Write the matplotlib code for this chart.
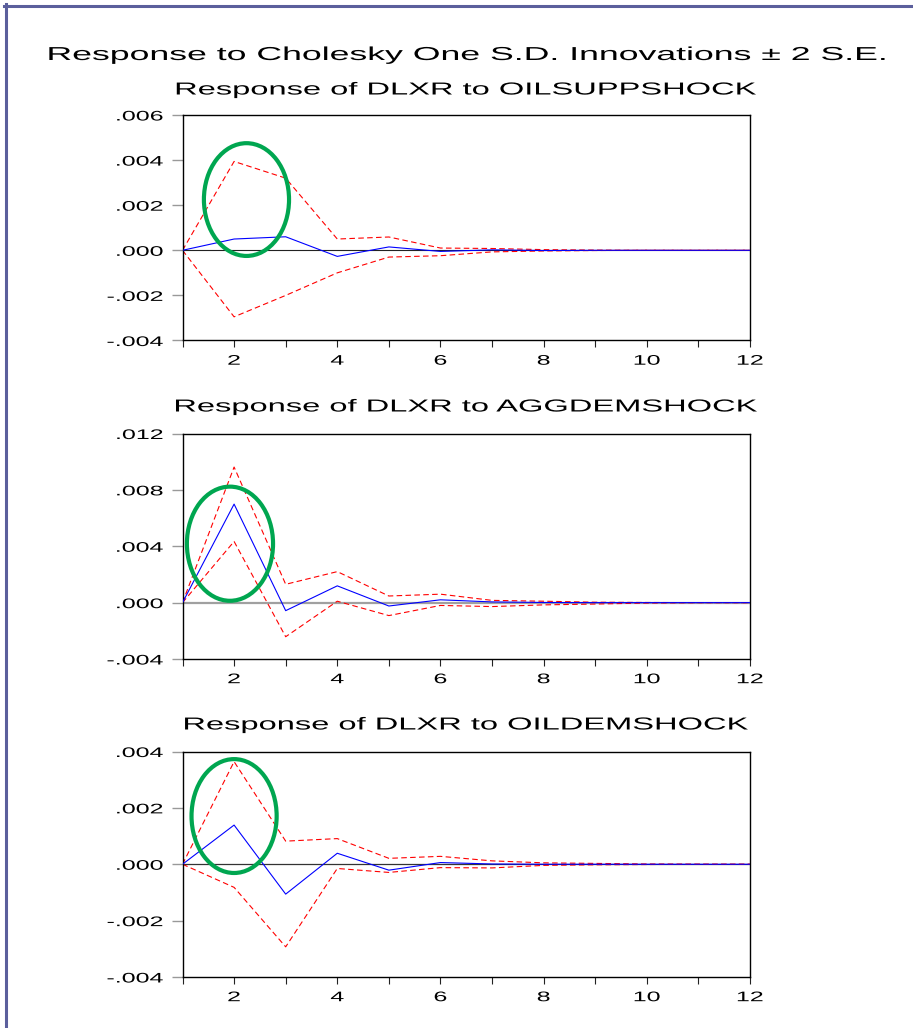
import matplotlib
matplotlib.use('Agg')
import matplotlib.pyplot as plt
from matplotlib.patches import Ellipse
from matplotlib.lines import Line2D
from matplotlib.patheffects import AbstractPathEffect
from matplotlib.transforms import Affine2D

plt.rcParams['font.family'] = ['Liberation Sans', 'DejaVu Sans']

periods = list(range(1, 13))

# Response of DLXR to OILSUPPSHOCK
supp_resp = [0, 0.0005, 0.0006, -0.00027, 0.00015, -0.00005, 0.00002, -0.00001, 0, 0, 0, 0]
supp_upper = [0, 0.00394, 0.0032, 0.0005, 0.00059, 0.0001, 0.00008, 0.00003, 0.00001, 0, 0, 0]
supp_lower = [0, -0.00295, -0.002, -0.001, -0.0003, -0.00024, -0.00007, -0.00003, -0.00001, 0, 0, 0]

# Response of DLXR to AGGDEMSHOCK
agg_resp = [0, 0.00699, -0.00057, 0.00119, -0.00024, 0.0002, 0.00005, 0.00001, 0, 0, 0, 0]
agg_upper = [0, 0.00962, 0.0013, 0.0022, 0.00047, 0.0006, 0.00016, 0.0001, 0.00003, 0.00001, 0, 0]
agg_lower = [0, 0.00434, -0.00242, 0.0001, -0.00092, -0.0002, -0.00028, -0.00016, -0.0001, -0.00003, 0, 0]

# Response of DLXR to OILDEMSHOCK
dem_resp = [0, 0.00139, -0.00106, 0.00039, -0.00021, 0.00006, 0.00001, 0, 0, 0, 0, 0]
dem_upper = [0, 0.00364, 0.00082, 0.00091, 0.00021, 0.00028, 0.00012, 0.00005, 0.00003, 0.00001, 0, 0]
dem_lower = [0, -0.00082, -0.00293, -0.00015, -0.00029, -0.00012, -0.00013, -0.00004, -0.00002, -0.00001, 0, 0]

shock_names = ['OILSUPPSHOCK', 'AGGDEMSHOCK', 'OILDEMSHOCK']
responses = [supp_resp, agg_resp, dem_resp]
uppers = [supp_upper, agg_upper, dem_upper]
lowers = [supp_lower, agg_lower, dem_lower]

ytick_vals = [[-0.004, -0.002, 0.0, 0.002, 0.004, 0.006],
              [-0.004, 0.0, 0.004, 0.008, 0.012],
              [-0.004, -0.002, 0.0, 0.002, 0.004]]
ytick_labels = [['-.004', '-.002', '.000', '.002', '.004', '.006'],
                ['-.004', '.000', '.004', '.008', '.012'],
                ['-.004', '-.002', '.000', '.002', '.004']]
xtick_labels = ['', '2', '', '4', '', '6', '', '8', '', '10', '', '12']

# green circles drawn on the graph (centre x, centre y, width, height in data units)
highlights = [(2.24, 0.00225, 1.65, 0.0050),
              (1.92, 0.00418, 1.67, 0.0081),
              (2.00, 0.00171, 1.65, 0.00404)]

main_title = 'Response to Cholesky One S.D. Innovations \u00b1 2 S.E.'


class WideText(AbstractPathEffect):
    """Stretch text sideways, the original EViews graph was resized wider"""
    def __init__(self, sx=1.8, anchor='center'):
        super().__init__()
        self.sx = sx
        self.anchor = anchor

    def draw_path(self, renderer, gc, tpath, affine, rgbFace=None):
        ext = tpath.get_extents()
        if self.anchor == 'right':
            cx = ext.x1
        elif self.anchor == 'left':
            cx = ext.x0
        else:
            cx = (ext.x0 + ext.x1) / 2
        stretch = Affine2D().translate(-cx, 0).scale(self.sx, 1).translate(cx, 0)
        renderer.draw_path(gc, tpath, stretch + affine, rgbFace)


W, H = 913, 1028
fig = plt.figure(figsize=(W / 100, H / 100), dpi=100)

# frame around the picture
fig.add_artist(Line2D([4 / W, 1], [1 - 5.5 / H, 1 - 5.5 / H], color='#5b5f9c', lw=2.2))
fig.add_artist(Line2D([5.5 / W, 5.5 / W], [0, 1 - 4 / H], color='#5b5f9c', lw=2.2))

fig.text(467 / W, 1 - 60 / H, main_title, ha='center', va='baseline', fontsize=13.5,
         path_effects=[WideText(1.9)])

ax_tops = [115, 433.5, 751.5]
ax_h = 225.5
sub_base = [94.5, 411.5, 729.5]
zero_styles = [('#222222', 0.8), ('#a0a0a0', 1.6), ('#333333', 0.9)]

for i in range(3):
    ax = fig.add_axes([182.5 / W, 1 - (ax_tops[i] + ax_h) / H, 567.5 / W, ax_h / H])
    zc, zw = zero_styles[i]
    ax.axhline(0, color=zc, lw=zw, zorder=1)
    ax.plot(periods, responses[i], color='#0000ff', lw=0.8, zorder=3)
    ax.plot(periods, uppers[i], color='#ff0000', lw=0.8, dashes=(5, 3), zorder=2)
    ax.plot(periods, lowers[i], color='#ff0000', lw=0.8, dashes=(5, 3), zorder=2)

    cx, cy, ew, eh = highlights[i]
    ax.add_patch(Ellipse((cx, cy), ew, eh, fill=False, edgecolor='#00a650', lw=3,
                         zorder=5, clip_on=False))

    ax.set_xlim(1, 12)
    ax.set_ylim(ytick_vals[i][0], ytick_vals[i][-1])
    ax.set_xticks(periods)
    ax.set_xticklabels(xtick_labels)
    ax.set_yticks(ytick_vals[i])
    ax.set_yticklabels(ytick_labels[i])
    ax.tick_params(axis='x', direction='out', length=5, width=0.8, color='#222222',
                   labelsize=10, pad=4.5)
    ax.tick_params(axis='y', direction='out', length=8, width=1.0, color='#999999',
                   labelsize=10, pad=6)
    for sp in ax.spines.values():
        sp.set_linewidth(1.0)
        sp.set_color('black')
    for lab in ax.get_xticklabels():
        lab.set_path_effects([WideText(anchor='center')])
    for lab in ax.get_yticklabels():
        lab.set_path_effects([WideText(anchor='right')])

    fig.text(466 / W, 1 - sub_base[i] / H, 'Response of DLXR to ' + shock_names[i],
             ha='center', va='baseline', fontsize=12.5, path_effects=[WideText(1.88)])

fig.savefig('out.png', dpi=100)
plt.close(fig)
